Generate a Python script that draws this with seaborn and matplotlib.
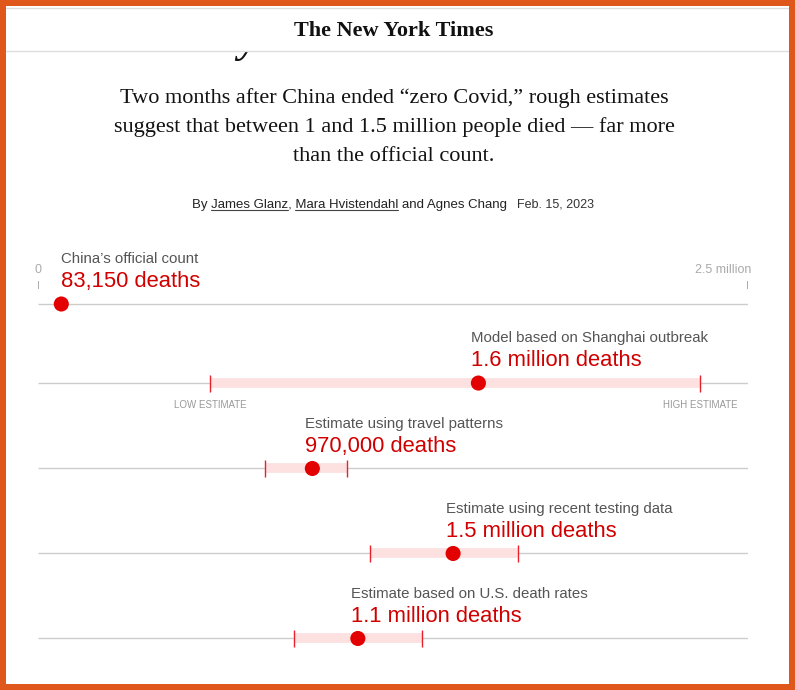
"""NYT-style dot-and-range chart of China Covid death estimates."""

import matplotlib

matplotlib.use("Agg")
import matplotlib.pyplot as plt
import numpy as np
import pandas as pd
import seaborn as sns
from matplotlib import font_manager
from matplotlib.lines import Line2D
from matplotlib.patches import Rectangle

# ---- data (deaths, millions) ----
row_labels = [
    "China\u2019s official count",
    "Model based on Shanghai outbreak",
    "Estimate using travel patterns",
    "Estimate using recent testing data",
    "Estimate based on U.S. death rates",
]
value_labels = [
    "83,150 deaths",
    "1.6 million deaths",
    "970,000 deaths",
    "1.5 million deaths",
    "1.1 million deaths",
]
central = [0.083, 1.55, 0.966, 1.461, 1.126]
low = [np.nan, 0.607, 0.80, 1.170, 0.90]
high = [np.nan, 2.33, 1.087, 1.690, 1.351]
axis_max = 2.5
axis_labels = ["0", "2.5 million"]

subtitle = [
    "Two months after China ended \u201czero Covid,\u201d rough estimates",
    "suggest that between 1 and 1.5 million people died \u2014 far more",
    "than the official count.",
]
byline = "By James Glanz, Mara Hvistendahl and Agnes Chang"
byline_links = ["James Glanz", "Mara Hvistendahl"]
date_text = "Feb. 15, 2023"

# ---- layout ----
W, H = 795, 690
row_y = [0, 0.93, 1.935, 2.935, 3.935]
RED = "#d00000"
DOT = "#e30000"
PINK = "#fde0e0"
GREY_TXT = "#555555"
ORANGE = "#e0571c"

sns.set_style("white")
installed = {f.name for f in font_manager.fontManager.ttflist}
SANS = "Liberation Sans"
NARROW = "Liberation Sans Narrow" if "Liberation Sans Narrow" in installed else SANS
SERIF = "Liberation Serif"
plt.rcParams["font.family"] = [SANS, "DejaVu Sans"]

df = pd.DataFrame(
    {"label": row_labels, "value": value_labels, "central": central,
     "low": low, "high": high, "row": row_y}
)

fig = plt.figure(figsize=(W / 100, H / 100), dpi=100)
fig.patch.set_facecolor("white")


def fx(px):
    return px / W


def fy(py):
    return 1 - py / H


# ---- header ----
# tail of the headline peeking out below the sticky masthead
fig.text(fx(238), fy(52), "y", ha="left", va="baseline", fontsize=30,
         fontweight="bold", fontstyle="italic", family=[SERIF], color="#121212", zorder=1)
fig.add_artist(Rectangle((fx(6), fy(51.5)), 783 / W, 43.5 / H, transform=fig.transFigure,
                         color="white", lw=0, zorder=2))
for y in (8, 51):
    fig.add_artist(Line2D([fx(6), fx(789)], [fy(y), fy(y)], color="#dddddd", lw=1, zorder=3))
fig.text(fx(394), fy(31), "The New York Times", ha="center", va="center",
         fontsize=16, fontweight="bold", family=[SERIF], color="#111111", zorder=4)

for i, line in enumerate(subtitle):
    fig.text(fx(394), fy(103.5 + i * 28.6), line, ha="center", va="baseline",
             fontsize=16, family=[SERIF], color="#121212")

# byline with underlined names
renderer = fig.canvas.get_renderer()
by_x, by_y = 192, 207.7
by_props = dict(fontsize=9.5, family=[NARROW], color="#222222")


def text_width(s, props):
    t = fig.text(0, 0, s, **props)
    w = t.get_window_extent(renderer).width
    t.remove()
    return w


fig.text(fx(by_x), fy(by_y), byline, ha="left", va="baseline", **by_props)
for name in byline_links:
    j = byline.index(name) + len(name)
    x_end = by_x + text_width(byline[:j], by_props)
    x_start = x_end - text_width(name, by_props)
    fig.add_artist(Line2D([fx(x_start), fx(x_end)], [fy(by_y + 2.5), fy(by_y + 2.5)],
                          color="#444444", lw=0.8))
by_end = by_x + text_width(byline, by_props)
fig.text(fx(by_end + 10), fy(by_y), date_text, ha="left", va="baseline",
         fontsize=9, family=[NARROW], color="#333333")

# ---- chart ----
ax = fig.add_axes([fx(37.7), fy(680), (748.5 - 37.7) / W, (680 - 230) / H])
ax.set_xlim(0, axis_max)
ax.set_ylim((680 - 304) / 85, (230 - 304) / 85)
ax.axis("off")

ax.hlines(df["row"], 0, axis_max, color="#cccccc", lw=1, zorder=1)
rng = df.dropna(subset=["low"])
ax.hlines(rng["row"], rng["low"], rng["high"], color=PINK, lw=7, zorder=2)
for col in ("low", "high"):
    ax.vlines(rng[col], rng["row"] - 0.1, rng["row"] + 0.1, color="#e8202a", lw=1, zorder=3)

sns.scatterplot(data=df, x="central", y="row", s=118, color=DOT, edgecolor="none",
                linewidth=0, zorder=4, ax=ax, legend=False, clip_on=False)

for _, r in df.iterrows():
    dx = 0 if r["central"] < 0.1 else -5
    ax.annotate(r["label"], (r["central"], r["row"]), xytext=(dx, 29.5),
                textcoords="offset points", ha="left", va="baseline",
                fontsize=10.8, color=GREY_TXT)
    ax.annotate(r["value"], (r["central"], r["row"]), xytext=(dx, 12),
                textcoords="offset points", ha="left", va="baseline",
                fontsize=15.8, color=RED)

# low / high estimate callouts on the first range row
first = rng.iloc[0]
for col, txt in (("low", "LOW ESTIMATE"), ("high", "HIGH ESTIMATE")):
    ax.annotate(txt, (first[col], first["row"]), xytext=(0, -18),
                textcoords="offset points", ha="center", va="baseline",
                fontsize=7, color="#999999")

# axis end labels
for xv, txt, ha, dx in ((0, axis_labels[0], "center", 0),
                        (axis_max, axis_labels[1], "right", 2)):
    ax.vlines(xv, row_y[0] - 0.274, row_y[0] - 0.173, color="#aaaaaa", lw=1.4)
    ax.annotate(txt, (xv, row_y[0]), xytext=(dx, 22), textcoords="offset points",
                ha=ha, va="baseline", fontsize=9, color="#aaaaaa")

# ---- orange frame ----
for x0, y0, w, h in ((0, 0, W, 6), (0, 0, 6, H), (W - 6, 0, 6, H), (0, H - 6, W, 6)):
    fig.add_artist(Rectangle((fx(x0), fy(y0 + h)), w / W, h / H,
                             transform=fig.transFigure, color=ORANGE, lw=0, zorder=5))

fig.savefig("out.png", dpi=100)
